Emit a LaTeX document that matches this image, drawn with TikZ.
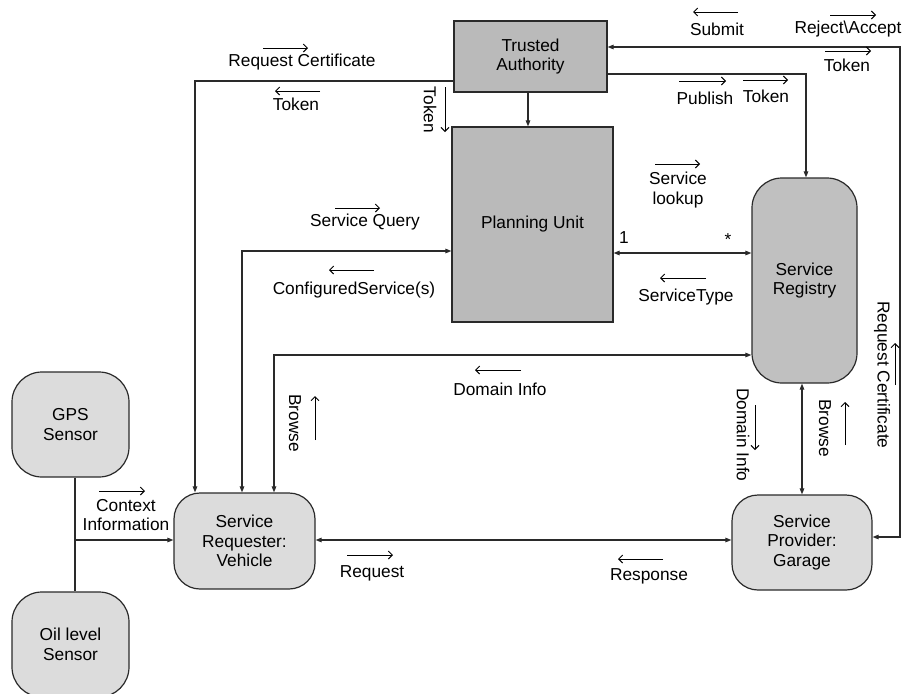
\documentclass[tikz,border=0pt]{standalone}
\usepackage{fontspec}
\setmainfont{Liberation Sans}
\usetikzlibrary{arrows.meta}
\definecolor{boxdark}{HTML}{BABABA}
\definecolor{boxreg}{HTML}{C0C0C0}
\definecolor{boxlight}{HTML}{DCDCDC}
\definecolor{edge}{HTML}{2A2A2A}
\begin{document}
\begin{tikzpicture}[x=1pt,y=-1pt,
  every node/.style={font=\fontsize{17.3}{19.5}\selectfont, inner sep=0pt, text=black},
  unitbox/.style={draw=edge, line width=1.2pt, fill=boxdark, align=center},
  regbox/.style={draw=edge, line width=1.2pt, fill=boxreg, align=center, rounded corners=30pt},
  actor/.style={draw=edge, line width=1.2pt, fill=boxlight, align=center, rounded corners=26pt},
  wire/.style={draw=edge, line width=1.1pt},
  conn/.style={wire, -{Triangle[length=6pt,width=4.5pt]}},
  dconn/.style={wire, {Triangle[length=6pt,width=4.5pt]}-{Triangle[length=6pt,width=4.5pt]}},
  flow/.style={draw=black, line width=1pt, -{Straight Barb[length=4pt,width=8pt]}},
  lbl/.style={align=center},
  vlbl/.style={rotate=-90}
]
\useasboundingbox (0,0) rectangle (906,694);

% ---- units and actors ----
\node[unitbox, minimum width=153pt, minimum height=71pt] (TA) at (530.5,56.5) {Trusted\\Authority};
\node[unitbox, minimum width=161pt, minimum height=195pt] (PU) at (532.5,224.5) {Planning Unit};
\node[regbox, minimum width=105pt, minimum height=205pt] (Reg) at (804.5,280.5) {Service\\Registry};
\node[actor, minimum width=141pt, minimum height=96pt] (Req) at (244.5,541) {Service\\Requester:\\Vehicle};
\node[actor, minimum width=140pt, minimum height=95pt] (Prov) at (802,542.5) {Service\\Provider:\\Garage};
\node[actor, rounded corners=30pt, minimum width=117pt, minimum height=105pt] (GPS) at (70.5,424.5) {GPS\\Sensor};
\node[actor, rounded corners=30pt, minimum width=117pt, minimum height=105pt] (Oil) at (70.5,644.5) {Oil level\\Sensor};

% ---- connectors ----
\coordinate (jn) at (75,540);
\coordinate (rc) at (900,537);
\draw[conn] (TA.west |- 0,81) -| ([xshift=-49.5pt]Req.north);
\draw[dconn] ([xshift=-2.5pt]Req.north) |- (PU.west |- 0,251);
\draw[dconn] ([xshift=29.5pt]Req.north) |- (Reg.west |- 0,355);
\draw[conn] (TA.south -| 528,0) -- (PU.north -| 528,0);
\draw[conn] (TA.east |- 0,74) -| (Reg.north -| 806,0);
\draw[dconn] (TA.east |- 0,47) -| (rc) -- (Prov.east |- rc);
\draw[dconn] (PU.east |- 0,253) -- (Reg.west |- 0,253);
\draw[dconn] (Reg.south -| Prov.north) -- (Prov.north);
\draw[dconn] (Req.east |- 0,540) -- (Prov.west |- 0,540);
\draw[wire] (GPS.south -| jn) -- (Oil.north -| jn);
\draw[conn] (jn) -- (Req.west |- jn);

% ---- multiplicities ----
\node (m1) at (624,238) {1};
\node (m2) at (728,240) {*};

% ---- message labels ----
\node[lbl] (l1) at (302,62) {Request Certificate};
\draw[flow] (263,48) -- (308,48);
\node[lbl] (l2) at (296,104) {Token};
\draw[flow] (320,91) -- (275,91);
\node[lbl] (l3) at (717,29) {Submit};
\draw[flow] (738,12) -- (693,12);
\node[lbl] (l4) at (848,29) {Reject\textbackslash Accept};
\draw[flow] (830,15) -- (876,15);
\node[lbl] (l5) at (847,65) {Token};
\draw[flow] (825,51) -- (871,51);
\node[lbl] (l6) at (705,98) {Publish};
\draw[flow] (679,81) -- (726,81);
\node[lbl] (l7) at (766,96) {Token};
\draw[flow] (743,80) -- (788,80);
\node[lbl] (l8) at (678,190) {Service\\lookup};
\draw[flow] (655,164) -- (700,164);
\node[lbl] (l9) at (365,222) {Service Query};
\draw[flow] (335,208) -- (380,208);
\node[lbl] (l10) at (354,290) {ConfiguredService(s)};
\draw[flow] (374,270) -- (329,270);
\node[lbl] (l11) at (686,297) {ServiceType};
\draw[flow] (706,278) -- (660,278);
\node[lbl] (l12) at (500,389) {Domain Info};
\draw[flow] (521,370) -- (475,370);
\node[lbl] (l13) at (126,515) {Context\\Information};
\draw[flow] (99,491) -- (145,491);
\node[lbl] (l14) at (372,573) {Request};
\draw[flow] (347,555) -- (393,555);
\node[lbl] (l15) at (649,576) {Response};
\draw[flow] (663,559) -- (618,559);

% ---- rotated labels ----
\node[vlbl] (v1) at (430,110) {Token};
\draw[flow] (445,87) -- (445,132);
\node[vlbl] (v2) at (295,423) {Browse};
\draw[flow] (315,440) -- (315,396);
\node[vlbl] (v3) at (743,435) {Domain Info};
\draw[flow] (755,405) -- (755,450);
\node[vlbl] (v4) at (825,428) {Browse};
\draw[flow] (845,445) -- (845,402);
\node[vlbl] (v5) at (882,375) {Request Certificate};
\draw[flow] (895,385) -- (895,343);
\end{tikzpicture}
\end{document}
